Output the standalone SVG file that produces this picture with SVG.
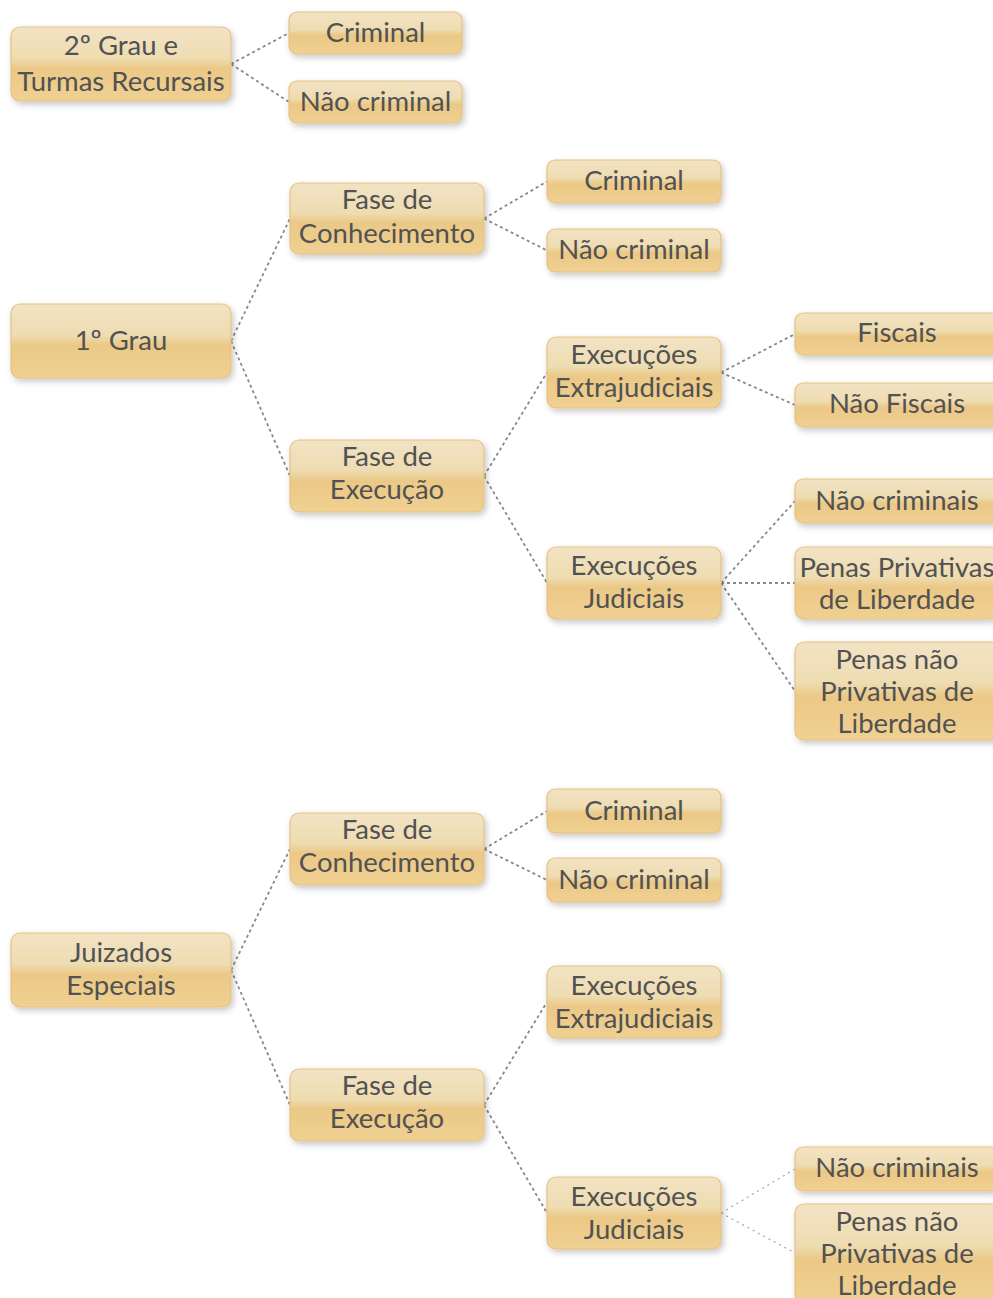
<svg xmlns="http://www.w3.org/2000/svg" width="993" height="1298" viewBox="0 0 993 1298">
<defs>
<linearGradient id="g" x1="0" y1="0" x2="0" y2="1">
<stop offset="0" stop-color="#f2e3c4"/>
<stop offset="0.42" stop-color="#eedcb1"/>
<stop offset="0.56" stop-color="#ebc886"/>
<stop offset="1" stop-color="#f0d192"/>
</linearGradient>
<filter id="sh" x="-10%" y="-10%" width="125%" height="140%">
<feDropShadow dx="2" dy="3" stdDeviation="3" flood-color="#000" flood-opacity="0.22"/>
</filter>
<style>
.n rect{fill:url(#g);stroke:#e7c182;stroke-width:1.2;filter:url(#sh)}
.n text{font-family:Lato,"Open Sans","Liberation Sans",sans-serif;font-size:27.5px;fill:#525252;text-anchor:middle}
.c line{stroke:#888;stroke-width:1.8;stroke-dasharray:3 3;fill:none}
.c line.f{stroke:#a5a5a5;stroke-width:1.2;stroke-dasharray:2 4}
</style>
</defs>
<rect width="993" height="1298" fill="#fff"/>
<g class="c" id="connectors">
<line x1="231" y1="64" x2="289" y2="33"/>
<line x1="231" y1="64" x2="289" y2="102"/>
<line x1="231" y1="341" x2="290" y2="218.5"/>
<line x1="231" y1="341" x2="290" y2="476"/>
<line x1="484" y1="218.5" x2="547" y2="181.5"/>
<line x1="484" y1="218.5" x2="547" y2="250.5"/>
<line x1="484" y1="476" x2="547" y2="372.5"/>
<line x1="484" y1="476" x2="547" y2="583"/>
<line x1="721" y1="372.5" x2="795" y2="334"/>
<line x1="721" y1="372.5" x2="795" y2="405"/>
<line x1="721" y1="583" x2="795" y2="501"/>
<line x1="721" y1="583" x2="795" y2="583"/>
<line x1="721" y1="583" x2="795" y2="691"/>
<line x1="231" y1="970" x2="290" y2="849"/>
<line x1="231" y1="970" x2="290" y2="1105"/>
<line x1="484" y1="849" x2="547" y2="811"/>
<line x1="484" y1="849" x2="547" y2="880"/>
<line x1="484" y1="1105" x2="547" y2="1002"/>
<line x1="484" y1="1105" x2="547" y2="1213"/>
<line class="f" x1="721" y1="1213" x2="795" y2="1169"/>
<line class="f" x1="721" y1="1213" x2="795" y2="1253"/>
</g>
<g class="n" id="n-2grau"><rect x="11" y="27" width="220" height="74" rx="9"/><text x="121" y="55">2º Grau e</text><text x="121" y="91">Turmas Recursais</text></g>
<g class="n" id="n-2grau-crim"><rect x="289" y="12" width="173" height="42" rx="8"/><text x="375.5" y="42">Criminal</text></g>
<g class="n" id="n-2grau-ncrim"><rect x="289" y="81" width="173" height="42" rx="8"/><text x="375.5" y="111">Não criminal</text></g>

<g class="n" id="n-1grau"><rect x="11" y="304" width="220" height="74" rx="9"/><text x="121" y="350">1º Grau</text></g>
<g class="n" id="n-1-conh"><rect x="290" y="183" width="194" height="71" rx="9"/><text x="387" y="209">Fase de</text><text x="387" y="243">Conhecimento</text></g>
<g class="n" id="n-1-conh-crim"><rect x="547" y="160" width="174" height="43" rx="8"/><text x="634" y="190">Criminal</text></g>
<g class="n" id="n-1-conh-ncrim"><rect x="547" y="229" width="174" height="43" rx="8"/><text x="634" y="259">Não criminal</text></g>
<g class="n" id="n-1-exec"><rect x="290" y="440" width="194" height="72" rx="9"/><text x="387" y="466">Fase de</text><text x="387" y="499">Execução</text></g>
<g class="n" id="n-1-extra"><rect x="547" y="337" width="174" height="71" rx="9"/><text x="634" y="364">Execuções</text><text x="634" y="397">Extrajudiciais</text></g>
<g class="n" id="n-1-fisc"><rect x="795" y="313" width="205" height="42" rx="8"/><text x="897" y="342">Fiscais</text></g>
<g class="n" id="n-1-nfisc"><rect x="795" y="383" width="205" height="44" rx="8"/><text x="897" y="413">Não Fiscais</text></g>
<g class="n" id="n-1-jud"><rect x="547" y="547" width="174" height="72" rx="9"/><text x="634" y="575">Execuções</text><text x="634" y="608">Judiciais</text></g>
<g class="n" id="n-1-jud-ncrim"><rect x="795" y="479" width="205" height="44" rx="8"/><text x="897" y="510">Não criminais</text></g>
<g class="n" id="n-1-jud-ppl"><rect x="795" y="547" width="205" height="72" rx="9"/><text x="897" y="577">Penas Privativas</text><text x="897" y="609">de Liberdade</text></g>
<g class="n" id="n-1-jud-pnpl"><rect x="795" y="642" width="205" height="98" rx="9"/><text x="897" y="669">Penas não</text><text x="897" y="701">Privativas de</text><text x="897" y="733">Liberdade</text></g>

<g class="n" id="n-jesp"><rect x="11" y="933" width="220" height="74" rx="9"/><text x="121" y="962">Juizados</text><text x="121" y="995">Especiais</text></g>
<g class="n" id="n-j-conh"><rect x="290" y="813" width="194" height="72" rx="9"/><text x="387" y="839">Fase de</text><text x="387" y="872">Conhecimento</text></g>
<g class="n" id="n-j-conh-crim"><rect x="547" y="789" width="174" height="44" rx="8"/><text x="634" y="820">Criminal</text></g>
<g class="n" id="n-j-conh-ncrim"><rect x="547" y="858" width="174" height="44" rx="8"/><text x="634" y="889">Não criminal</text></g>
<g class="n" id="n-j-exec"><rect x="290" y="1069" width="194" height="72" rx="9"/><text x="387" y="1095">Fase de</text><text x="387" y="1128">Execução</text></g>
<g class="n" id="n-j-extra"><rect x="547" y="966" width="174" height="72" rx="9"/><text x="634" y="995">Execuções</text><text x="634" y="1028">Extrajudiciais</text></g>
<g class="n" id="n-j-jud"><rect x="547" y="1177" width="174" height="72" rx="9"/><text x="634" y="1206">Execuções</text><text x="634" y="1239">Judiciais</text></g>
<g class="n" id="n-j-jud-ncrim"><rect x="795" y="1147" width="205" height="44" rx="8"/><text x="897" y="1177">Não criminais</text></g>
<g class="n" id="n-j-jud-pnpl"><rect x="795" y="1204" width="205" height="100" rx="9"/><text x="897" y="1231">Penas não</text><text x="897" y="1263">Privativas de</text><text x="897" y="1295">Liberdade</text></g>
</svg>
